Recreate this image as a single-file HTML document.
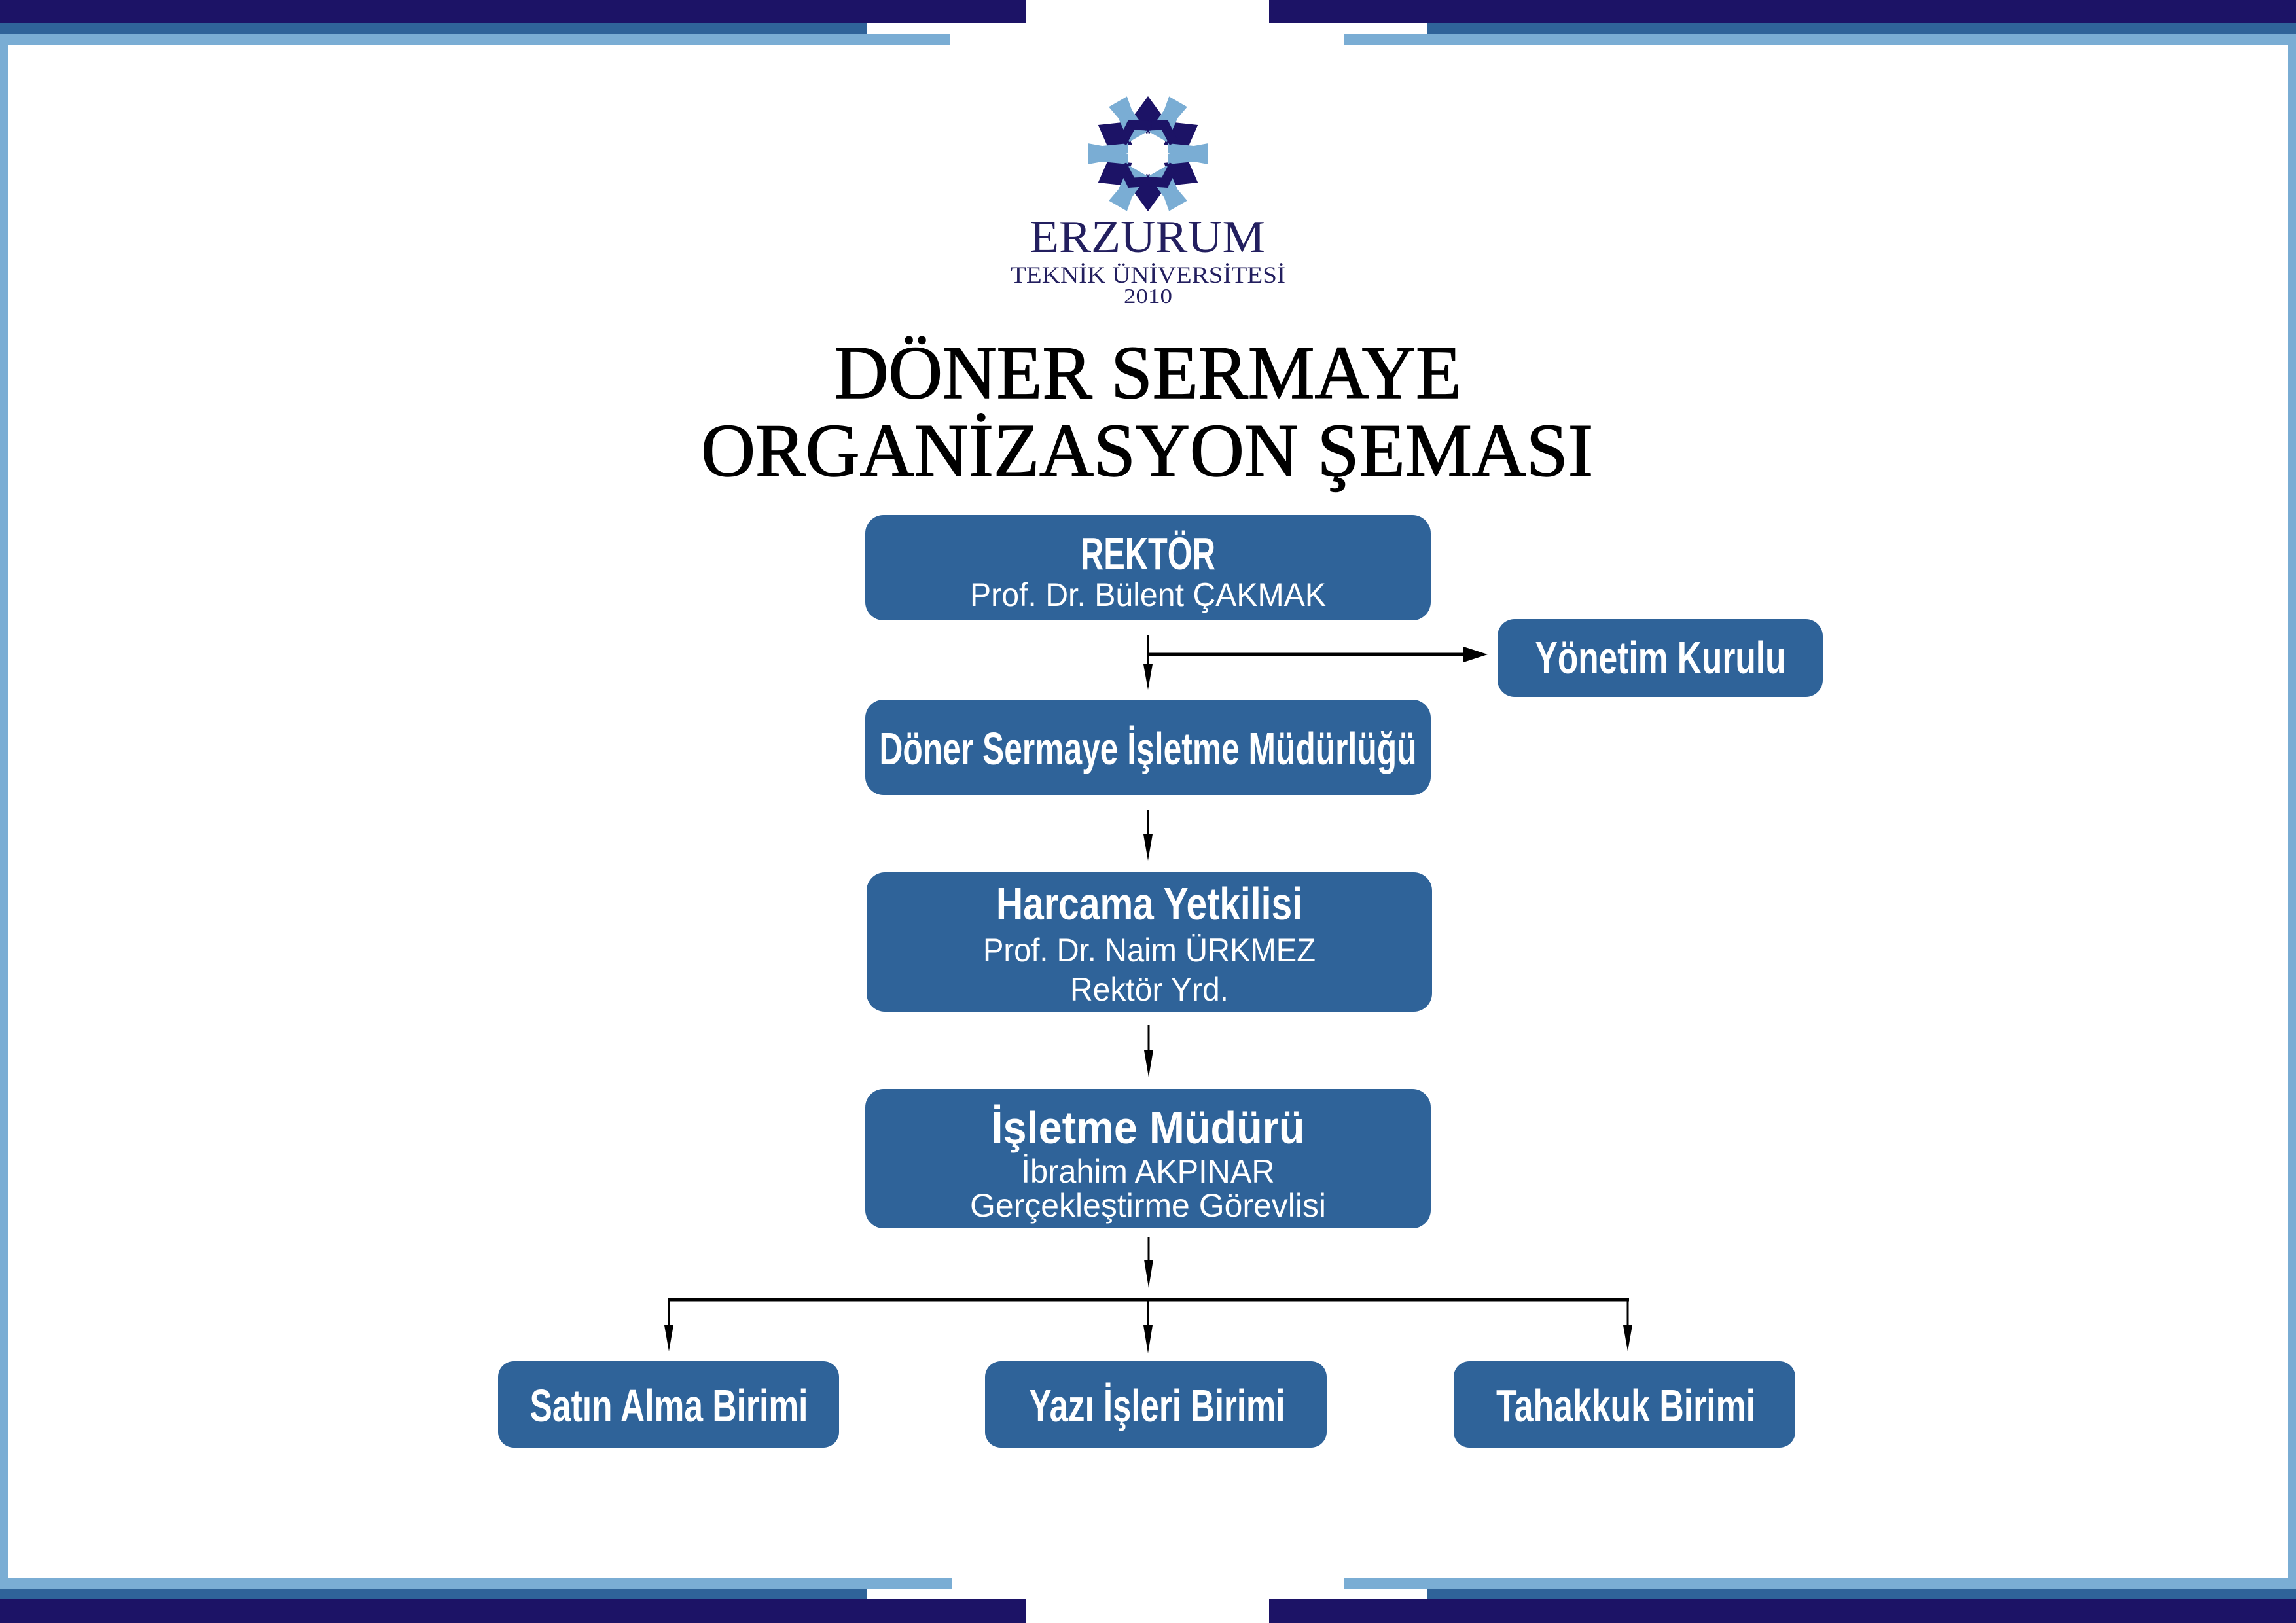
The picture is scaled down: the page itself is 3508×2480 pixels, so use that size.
<!DOCTYPE html>
<html><head><meta charset="utf-8">
<style>
html,body{margin:0;padding:0;background:#fff;}
svg{display:block;}
.b{fill:#2f6399;}
.t{font-family:"Liberation Sans",sans-serif;fill:#fff;text-anchor:middle;}
.tb{font-weight:bold;font-size:70px;}
.ts{font-size:50px;}
.ln{stroke:#000;fill:none;}
</style></head>
<body>
<svg width="3508" height="2480" viewBox="0 0 3508 2480" xmlns="http://www.w3.org/2000/svg">
<rect width="3508" height="2480" fill="#fff"/>
<!-- frame -->
<rect x="0" y="0" width="1567" height="35" fill="#1c1366"/>
<rect x="1939" y="0" width="1569" height="35" fill="#1c1366"/>
<rect x="0" y="35" width="1325" height="17" fill="#2f6399"/>
<rect x="2181" y="35" width="1327" height="17" fill="#2f6399"/>
<rect x="0" y="52" width="1452" height="17" fill="#7aadd4"/>
<rect x="2054" y="52" width="1454" height="17" fill="#7aadd4"/>
<rect x="0" y="52" width="12" height="2376" fill="#7aadd4"/>
<rect x="3496" y="52" width="12" height="2376" fill="#7aadd4"/>
<rect x="0" y="2411" width="1454" height="17" fill="#7aadd4"/>
<rect x="2054" y="2411" width="1454" height="17" fill="#7aadd4"/>
<rect x="0" y="2428" width="1325" height="16" fill="#2f6399"/>
<rect x="2181" y="2428" width="1327" height="16" fill="#2f6399"/>
<rect x="0" y="2444" width="1568" height="36" fill="#1c1366"/>
<rect x="1939" y="2444" width="1569" height="36" fill="#1c1366"/>

<!-- logo snowflake -->
<g transform="translate(1754,235)">
  <g id="arm">
    <polygon points="0,-88 -22,-58 0,-28 22,-58" fill="#1c1366"/>
  </g>
  <g transform="rotate(60)"><polygon points="0,-88 -22,-58 0,-28 22,-58" fill="#1c1366"/></g>
  <g transform="rotate(120)"><polygon points="0,-88 -22,-58 0,-28 22,-58" fill="#1c1366"/></g>
  <g transform="rotate(180)"><polygon points="0,-88 -22,-58 0,-28 22,-58" fill="#1c1366"/></g>
  <g transform="rotate(240)"><polygon points="0,-88 -22,-58 0,-28 22,-58" fill="#1c1366"/></g>
  <g transform="rotate(300)"><polygon points="0,-88 -22,-58 0,-28 22,-58" fill="#1c1366"/></g>
  <g transform="rotate(30)"><polygon points="-16,-92 16,-92 12,-70 16,-30 -16,-30 -12,-70" fill="#7aadd4"/></g>
  <g transform="rotate(90)"><polygon points="-16,-92 16,-92 12,-70 16,-30 -16,-30 -12,-70" fill="#7aadd4"/></g>
  <g transform="rotate(150)"><polygon points="-16,-92 16,-92 12,-70 16,-30 -16,-30 -12,-70" fill="#7aadd4"/></g>
  <g transform="rotate(210)"><polygon points="-16,-92 16,-92 12,-70 16,-30 -16,-30 -12,-70" fill="#7aadd4"/></g>
  <g transform="rotate(270)"><polygon points="-16,-92 16,-92 12,-70 16,-30 -16,-30 -12,-70" fill="#7aadd4"/></g>
  <g transform="rotate(330)"><polygon points="-16,-92 16,-92 12,-70 16,-30 -16,-30 -12,-70" fill="#7aadd4"/></g>
  <g fill="#1c1366">
    <g transform="rotate(30)"><polygon points="0,-60 -30,-40 -22,-28 0,-42 22,-28 30,-40"/></g>
    <g transform="rotate(150)"><polygon points="0,-60 -30,-40 -22,-28 0,-42 22,-28 30,-40"/></g>
    <g transform="rotate(210)"><polygon points="0,-60 -30,-40 -22,-28 0,-42 22,-28 30,-40"/></g>
    <g transform="rotate(330)"><polygon points="0,-60 -30,-40 -22,-28 0,-42 22,-28 30,-40"/></g>
  </g>
  <polygon points="0,-34 8,-8 34,0 8,8 0,34 -8,8 -34,0 -8,-8" fill="#fff"/>
</g>
<g font-family="Liberation Serif, serif" fill="#231f5f" text-anchor="middle">
  <text x="1753" y="385" font-size="70" textLength="360" lengthAdjust="spacingAndGlyphs">ERZURUM</text>
  <text x="1754" y="432" font-size="36" textLength="420" lengthAdjust="spacingAndGlyphs">TEKNİK ÜNİVERSİTESİ</text>
  <text x="1754" y="463" font-size="32" textLength="74" lengthAdjust="spacingAndGlyphs">2010</text>
</g>
<!-- title -->
<g font-family="Liberation Serif, serif" fill="#000" stroke="#000" stroke-width="1.5">
  <text x="1275" y="608" font-size="116" textLength="958" lengthAdjust="spacingAndGlyphs">DÖNER SERMAYE</text>
  <text x="1071" y="727" font-size="116" textLength="1363" lengthAdjust="spacingAndGlyphs">ORGANİZASYON ŞEMASI</text>
</g>

<!-- boxes -->
<rect class="b" x="1322" y="787" width="864" height="161" rx="28"/>
<rect class="b" x="2288" y="946" width="497" height="119" rx="26"/>
<rect class="b" x="1322" y="1069" width="864" height="146" rx="28"/>
<rect class="b" x="1324" y="1333" width="864" height="213" rx="28"/>
<rect class="b" x="1322" y="1664" width="864" height="213" rx="28"/>
<rect class="b" x="761" y="2080" width="521" height="132" rx="24"/>
<rect class="b" x="1505" y="2080" width="522" height="132" rx="24"/>
<rect class="b" x="2221" y="2080" width="522" height="132" rx="24"/>

<!-- text -->
<text class="t tb" x="1754" y="870" textLength="206" lengthAdjust="spacingAndGlyphs">REKTÖR</text>
<text class="t ts" x="1754" y="926" textLength="544" lengthAdjust="spacingAndGlyphs">Prof. Dr. Bülent ÇAKMAK</text>
<text class="t tb" x="2537" y="1029" font-size="66" textLength="383" lengthAdjust="spacingAndGlyphs">Yönetim Kurulu</text>
<text class="t tb" x="1754" y="1168" font-size="66" textLength="821" lengthAdjust="spacingAndGlyphs">Döner Sermaye İşletme Müdürlüğü</text>
<text class="t tb" x="1756" y="1405" textLength="468" lengthAdjust="spacingAndGlyphs">Harcama Yetkilisi</text>
<text class="t ts" x="1756" y="1469" textLength="508" lengthAdjust="spacingAndGlyphs">Prof. Dr. Naim ÜRKMEZ</text>
<text class="t ts" x="1756" y="1529" textLength="242" lengthAdjust="spacingAndGlyphs">Rektör Yrd.</text>
<text class="t tb" x="1754" y="1747" textLength="479" lengthAdjust="spacingAndGlyphs">İşletme Müdürü</text>
<text class="t ts" x="1754" y="1807" textLength="387" lengthAdjust="spacingAndGlyphs">İbrahim AKPINAR</text>
<text class="t ts" x="1754" y="1859" textLength="544" lengthAdjust="spacingAndGlyphs">Gerçekleştirme Görevlisi</text>
<text class="t tb" x="1022" y="2172" font-size="64" textLength="425" lengthAdjust="spacingAndGlyphs">Satın Alma Birimi</text>
<text class="t tb" x="1768" y="2172" font-size="64" textLength="391" lengthAdjust="spacingAndGlyphs">Yazı İşleri Birimi</text>
<text class="t tb" x="2484" y="2172" font-size="64" textLength="396" lengthAdjust="spacingAndGlyphs">Tahakkuk Birimi</text>

<!-- connectors -->
<g class="ln" stroke-width="3">
  <line x1="1754" y1="971" x2="1754" y2="1020"/>
  <line x1="1754" y1="1237" x2="1754" y2="1285"/>
  <line x1="1755" y1="1566" x2="1755" y2="1615"/>
  <line x1="1755" y1="1890" x2="1755" y2="1935"/>
  <line x1="1022" y1="1986" x2="1022" y2="2030"/>
  <line x1="1754" y1="1986" x2="1754" y2="2030"/>
  <line x1="2487" y1="1986" x2="2487" y2="2030"/>
</g>
<line class="ln" x1="1754" y1="1000" x2="2240" y2="1000" stroke-width="5"/>
<line class="ln" x1="1020" y1="1986" x2="2489" y2="1986" stroke-width="5"/>
<g fill="#000">
  <polygon points="1747,1015 1761,1015 1754,1054"/>
  <polygon points="1747,1275 1761,1275 1754,1315"/>
  <polygon points="1748,1605 1762,1605 1755,1646"/>
  <polygon points="1748,1925 1762,1925 1755,1968"/>
  <polygon points="1015,2025 1029,2025 1022,2065"/>
  <polygon points="1747,2025 1761,2025 1754,2068"/>
  <polygon points="2480,2025 2494,2025 2487,2065"/>
  <polygon points="2236,988 2236,1012 2273,1000"/>
</g>
</svg>
</body></html>
